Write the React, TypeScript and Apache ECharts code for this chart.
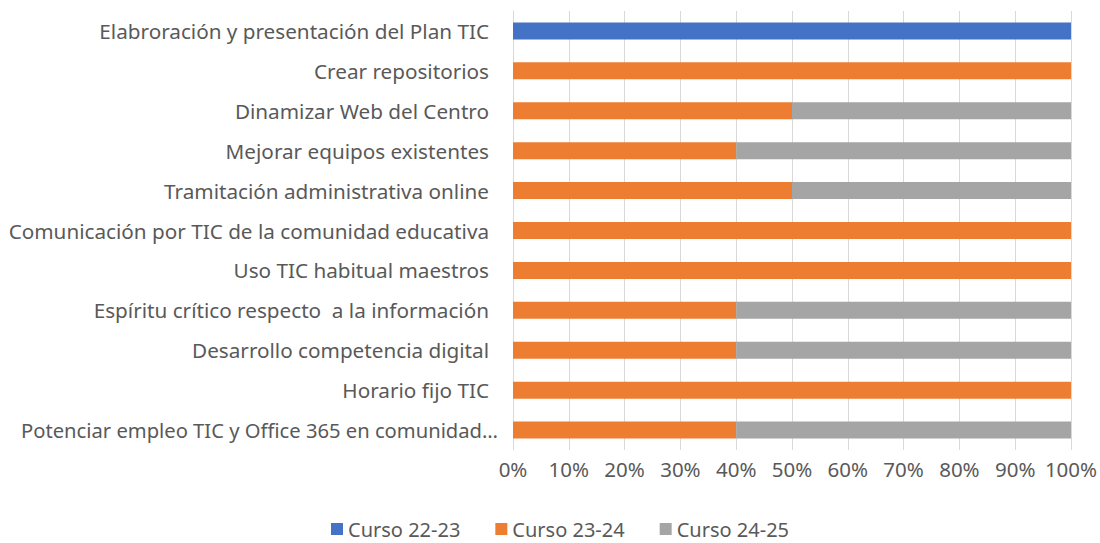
import React, { useEffect, useRef } from "react";
import * as echarts from "echarts";

const categories = [
  "Elabroración y presentación del Plan TIC",
  "Crear repositorios",
  "Dinamizar Web del Centro",
  "Mejorar equipos existentes",
  "Tramitación administrativa online",
  "Comunicación por TIC de la comunidad educativa",
  "Uso TIC habitual maestros",
  "Espíritu crítico respecto  a la información",
  "Desarrollo competencia digital",
  "Horario fijo TIC",
  "Potenciar empleo TIC y Office 365 en comunidad…",
];
const curso2223 = [100, 0, 0, 0, 0, 0, 0, 0, 0, 0, 0];
const curso2324 = [0, 100, 50, 40, 50, 100, 100, 40, 40, 100, 40];
const curso2425 = [0, 0, 50, 60, 50, 0, 0, 60, 60, 0, 60];
const seriesNames = ["Curso 22-23", "Curso 23-24", "Curso 24-25"];
const colors = ["#4472C4", "#ED7D31", "#A5A5A5"];

const FONT = "Noto Sans";

export default function App() {
  const ref = useRef<HTMLDivElement>(null);
  useEffect(() => {
    const chart = echarts.init(ref.current!, null, { renderer: "svg" });
    const datasets = [curso2223, curso2324, curso2425];
    chart.setOption({
      animation: false,
      color: colors,
      grid: {
        left: 513,
        right: 29,
        top: 11,
        bottom: 93,
        containLabel: false,
        outerBoundsMode: "none",
      },
      legend: {
        top: 519,
        left: 331,
        padding: 0,
        itemWidth: 12,
        itemHeight: 12,
        itemGap: 35,
        icon: "rect",
        textStyle: { fontFamily: FONT, fontSize: 20, color: "#595959" },
        data: seriesNames,
      },
      xAxis: {
        type: "value",
        min: 0,
        max: 100,
        interval: 10,
        axisLabel: {
          formatter: (v: number) => v + "%",
          fontFamily: FONT,
          fontSize: 20.5,
          color: "#595959",
          margin: 8,
        },
        axisLine: { show: false },
        axisTick: { show: false },
        splitLine: { show: true, lineStyle: { color: "#D9D9D9", width: 1 } },
      },
      yAxis: {
        type: "category",
        inverse: true,
        data: categories.map((c, i) =>
          i === categories.length - 1
            ? { value: c, textStyle: { padding: [0, -9, 0, 0], fontSize: 20.2 } }
            : c
        ),
        axisLabel: {
          fontFamily: FONT,
          fontSize: 20.7,
          color: "#595959",
          margin: 24,
        },
        axisLine: { show: true, lineStyle: { color: "#D9D9D9" } },
        axisTick: { show: false },
      },
      series: datasets.map((d, i) => ({
        name: seriesNames[i],
        type: "bar",
        stack: "total",
        barWidth: 17,
        data: d,
      })),
    });
    return () => chart.dispose();
  }, []);
  return <div ref={ref} style={{ width: 1100, height: 543, position: "absolute", left: 0, top: 0 }} />;
}
